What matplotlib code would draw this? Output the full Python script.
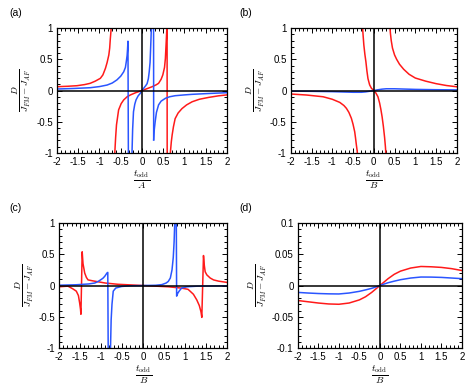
import matplotlib
matplotlib.use("Agg")
import matplotlib.pyplot as plt
from matplotlib.ticker import MultipleLocator, FuncFormatter

plt.rcParams["font.family"] = ["Liberation Sans", "DejaVu Sans"]
plt.rcParams["mathtext.fontset"] = "cm"
plt.rcParams["axes.unicode_minus"] = False

RED = "#ff1a1a"
BLUE = "#2a55ff"

# ---- panel (a) ----
a_red_left_x = [-2.0, -1.75, -1.53, -1.35, -1.22, -1.1, -0.98, -0.92, -0.86, -0.82, -0.78, -0.76, -0.745, -0.73, -0.72, -0.71]
a_red_left_y = [0.061, 0.068, 0.077, 0.095, 0.115, 0.15, 0.195, 0.25, 0.355, 0.45, 0.57, 0.68, 0.83, 0.95, 1.05, 1.2]
a_red_mid_x = [-0.65, -0.64, -0.62, -0.60, -0.55, -0.49, -0.43, -0.35, -0.27, -0.15, 0.0, 0.12, 0.235, 0.33, 0.39, 0.45, 0.49, 0.53, 0.55, 0.57, 0.585, 0.59, 0.595]
a_red_mid_y = [-1.2, -1.0, -0.75, -0.55, -0.31, -0.21, -0.15, -0.1, -0.07, -0.035, 0.0, 0.03, 0.06, 0.09, 0.115, 0.18, 0.25, 0.37, 0.51, 0.78, 1.0, 1.3, -3.0]
a_red_right_x = [0.64, 0.667, 0.69, 0.71, 0.74, 0.78, 0.85, 0.94, 1.05, 1.18, 1.35, 1.57, 1.8, 2.0]
a_red_right_y = [-1.5, -1.0, -0.82, -0.71, -0.58, -0.45, -0.36, -0.29, -0.23, -0.18, -0.14, -0.11, -0.085, -0.07]

a_blue_left_x = [-2.0, -1.6, -1.22, -1.0, -0.82, -0.7, -0.59, -0.5, -0.43, -0.39, -0.37, -0.35, -0.34, -0.33, -0.31]
a_blue_left_y = [0.024, 0.033, 0.045, 0.063, 0.088, 0.12, 0.17, 0.23, 0.3, 0.37, 0.46, 0.56, 0.66, 0.79, -3.0]
a_blue_mid_x = [-0.25, -0.235, -0.22, -0.2, -0.17, -0.14, -0.09, -0.04, 0.0, 0.05, 0.09, 0.12, 0.15, 0.17, 0.19, 0.2, 0.21, 0.22, 0.24, 0.27, 0.275]
a_blue_mid_y = [-1.3, -1.0, -0.62, -0.34, -0.22, -0.15, -0.085, -0.045, 0.0, 0.045, 0.08, 0.11, 0.19, 0.3, 0.45, 0.62, 0.8, 1.0, 1.6, 3.0, -0.79]
a_blue_right_x = [0.275, 0.29, 0.31, 0.34, 0.39, 0.45, 0.55, 0.65, 0.78, 1.0, 1.18, 1.5, 1.75, 2.0]
a_blue_right_y = [-0.79, -0.62, -0.5, -0.35, -0.23, -0.17, -0.125, -0.1, -0.083, -0.07, -0.061, -0.05, -0.042, -0.035]

# ---- panel (b) ----
b_red_left_x = [-2.0, -1.62, -1.22, -1.0, -0.82, -0.72, -0.66, -0.6, -0.54, -0.5, -0.46, -0.44, -0.42, -0.4, -0.39]
b_red_left_y = [-0.056, -0.072, -0.1, -0.14, -0.19, -0.24, -0.285, -0.35, -0.445, -0.54, -0.66, -0.76, -0.87, -0.97, -1.05]
b_red_mid_x = [-0.275, -0.265, -0.24, -0.215, -0.19, -0.165, -0.14, -0.1, -0.056, 0.0, 0.05, 0.1, 0.14, 0.17, 0.2, 0.23, 0.26, 0.28, 0.295]
b_red_mid_y = [1.05, 0.95, 0.73, 0.58, 0.46, 0.31, 0.19, 0.09, 0.035, 0.0, -0.04, -0.1, -0.2, -0.3, -0.42, -0.57, -0.75, -0.9, -1.05]
b_red_right_x = [0.385, 0.4, 0.42, 0.45, 0.5, 0.55, 0.62, 0.72, 0.85, 1.0, 1.25, 1.5, 1.75, 2.0]
b_red_right_y = [1.05, 0.92, 0.8, 0.68, 0.57, 0.5, 0.42, 0.34, 0.26, 0.2, 0.15, 0.11, 0.08, 0.06]
b_blue_x = [-2.0, -1.5, -1.0, -0.7, -0.5, -0.3, -0.2, -0.1, 0.0, 0.1, 0.2, 0.3, 0.5, 0.7, 1.0, 1.5, 2.0]
b_blue_y = [-0.01, -0.013, -0.018, -0.024, -0.028, -0.028, -0.022, -0.012, 0.0, 0.012, 0.022, 0.028, 0.028, 0.024, 0.018, 0.013, 0.01]

# ---- panel (c) ----
c_red_x = [-2.0, -1.79, -1.68, -1.59, -1.54, -1.51, -1.49, -1.48, -1.45, -1.43, -1.39, -1.35, -1.31, -1.2, -1.07, -0.9, -0.6, -0.3, 0.0,
           0.3, 0.6, 0.9, 1.07, 1.12, 1.2, 1.28, 1.34, 1.38, 1.40, 1.44, 1.46, 1.48, 1.52, 1.6, 1.68, 1.8, 2.0]
c_red_y = [-0.02, -0.01, -0.05, -0.09, -0.16, -0.28, -0.38, -0.46, 0.54, 0.35, 0.2, 0.13, 0.09, 0.075, 0.06, 0.04, 0.02, 0.01, 0.0,
           -0.01, -0.02, -0.04, -0.06, -0.09, -0.14, -0.23, -0.32, -0.42, -0.51, 0.48, 0.32, 0.22, 0.17, 0.12, 0.09, 0.07, 0.05]
c_blue_x = [-2.0, -1.6, -1.3, -1.15, -1.07, -0.99, -0.95, -0.91, -0.88, -0.86, -0.84, -0.815, -0.79, -0.775, -0.76, -0.74, -0.71, -0.65, -0.51, -0.3, 0.0,
            0.3, 0.45, 0.55, 0.6, 0.65, 0.69, 0.72, 0.74, 0.755, 0.765, 0.78, 0.80, 0.83, 0.87, 0.92, 1.05, 1.3, 2.0]
c_blue_y = [0.005, 0.012, 0.025, 0.04, 0.065, 0.1, 0.12, 0.15, 0.18, 0.2, 0.21, -3.0, -1.3, -1.0, -0.55, -0.3, -0.09, -0.04, -0.015, -0.004, 0.0,
            0.004, 0.015, 0.04, 0.065, 0.12, 0.25, 0.45, 0.7, 1.0, 1.6, 3.0, -0.17, -0.12, -0.08, -0.04, -0.02, -0.01, -0.004]

# ---- panel (d) ----
d_x = [-2.0, -1.75, -1.5, -1.25, -1.0, -0.75, -0.5, -0.35, -0.2, -0.1, 0.0, 0.1, 0.2, 0.35, 0.5, 0.75, 1.0, 1.25, 1.5, 1.75, 2.0]
d_red_y = [-0.024, -0.026, -0.028, -0.0295, -0.03, -0.028, -0.023, -0.018, -0.011, -0.0055, 0.0, 0.0055, 0.011, 0.018, 0.023, 0.028, 0.0305, 0.03, 0.029, 0.027, 0.024]
d_blue_y = [-0.011, -0.012, -0.0128, -0.0133, -0.0135, -0.012, -0.0093, -0.007, -0.0045, -0.0023, 0.0, 0.0023, 0.0045, 0.007, 0.0093, 0.012, 0.0136, 0.0135, 0.013, 0.012, 0.011]

fig = plt.figure(figsize=(4.69, 3.88), dpi=100)
rects = {
    "a": [0.1215, 0.6057, 0.3625, 0.322],
    "b": [0.620, 0.6057, 0.354, 0.322],
    "c": [0.126, 0.1031, 0.358, 0.322],
    "d": [0.635, 0.1031, 0.350, 0.322],
}
# panel label positions in pixels (x, y from top)
label_px = {"a": (9, 13), "b": (239, 13), "c": (9, 208), "d": (239, 208)}
xden = {"a": "A", "b": "B", "c": "B", "d": "B"}
axes = {k: fig.add_axes(r) for k, r in rects.items()}

fmt = FuncFormatter(lambda v, p: f"{v:g}")
for k, ax in axes.items():
    ax.set_xlim(-2, 2)
    ax.xaxis.set_major_locator(MultipleLocator(0.5))
    ax.xaxis.set_minor_locator(MultipleLocator(0.1))
    if k == "d":
        ax.set_ylim(-0.1, 0.1)
        ax.yaxis.set_major_locator(MultipleLocator(0.05))
        ax.yaxis.set_minor_locator(MultipleLocator(0.01))
    else:
        ax.set_ylim(-1, 1)
        ax.yaxis.set_major_locator(MultipleLocator(0.5))
        ax.yaxis.set_minor_locator(MultipleLocator(0.1))
    ax.xaxis.set_major_formatter(fmt)
    ax.yaxis.set_major_formatter(fmt)
    ax.tick_params(which="both", direction="in", top=True, right=True, labelsize=7, width=0.7, pad=3)
    ax.tick_params(which="major", length=3.5)
    ax.tick_params(which="minor", length=2)
    for s in ax.spines.values():
        s.set_linewidth(0.9)
    ax.axhline(0, color="black", lw=1.1, zorder=3)
    ax.axvline(0, color="black", lw=1.1, zorder=3)
    ax.set_xlabel(r"$\frac{t_{\rm odd}}{%s}$" % xden[k], fontsize=10, labelpad=1)
    ax.set_ylabel(r"$\frac{D}{J_{FM}-J_{AF}}$", fontsize=9.5, labelpad=2)
    px, py = label_px[k]
    fig.text(px / 469, 1 - py / 388, f"({k})", fontsize=7.5, va="center", ha="left")

lw = 1.1
ax = axes["a"]
ax.plot(a_red_left_x, a_red_left_y, color=RED, lw=lw)
ax.plot(a_red_mid_x, a_red_mid_y, color=RED, lw=lw)
ax.plot(a_red_right_x, a_red_right_y, color=RED, lw=lw)
ax.plot(a_blue_left_x, a_blue_left_y, color=BLUE, lw=lw)
ax.plot(a_blue_mid_x, a_blue_mid_y, color=BLUE, lw=lw)
ax.plot(a_blue_right_x, a_blue_right_y, color=BLUE, lw=lw)

ax = axes["b"]
ax.plot(b_red_left_x, b_red_left_y, color=RED, lw=lw)
ax.plot(b_red_mid_x, b_red_mid_y, color=RED, lw=lw)
ax.plot(b_red_right_x, b_red_right_y, color=RED, lw=lw)
ax.plot(b_blue_x, b_blue_y, color=BLUE, lw=lw)

ax = axes["c"]
ax.plot(c_red_x, c_red_y, color=RED, lw=lw)
ax.plot(c_blue_x, c_blue_y, color=BLUE, lw=lw)

ax = axes["d"]
ax.plot(d_x, d_red_y, color=RED, lw=lw)
ax.plot(d_x, d_blue_y, color=BLUE, lw=lw)

fig.savefig("out.png", dpi=100)
